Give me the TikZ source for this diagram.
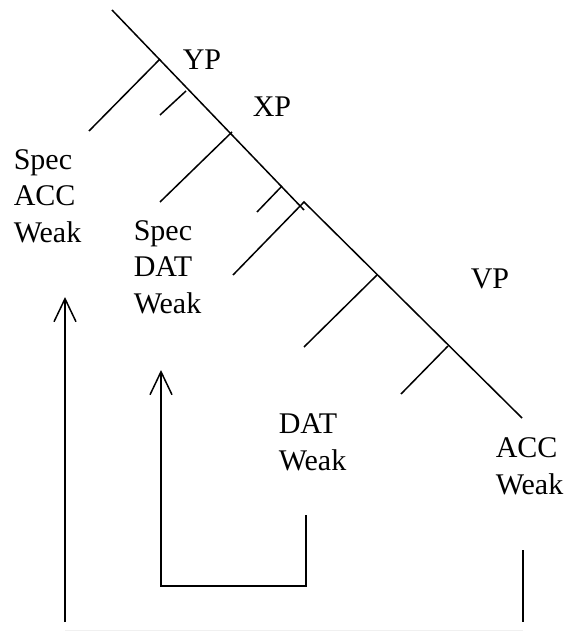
\documentclass[tikz,border=0pt]{standalone}
\usepackage{fontspec}
\setmainfont{Liberation Serif}
\usetikzlibrary{arrows.meta}
\begin{document}
\begin{tikzpicture}[x=1pt,y=-1pt,line width=1.5pt,
  lbl/.style={anchor=base west,inner sep=0pt,font=\fontsize{30}{36.5}\selectfont,align=left},
  mv/.style={-{Straight Barb[length=23pt,width=22pt]}}]
\useasboundingbox (0,0) rectangle (569,631);
% upper spine (YP / XP)
\coordinate (s0) at (112,10);
\coordinate (s1) at (160,59);
\coordinate (s2) at (232,132);
\coordinate (s3) at (282,186);
\coordinate (sE) at (304,210);
\coordinate (b1) at (89,131);
\coordinate (bA) at (186,91);
\coordinate (bB) at (160,115);
\coordinate (b2) at (160,202);
\coordinate (b3) at (257,212);
\draw (s0) -- (sE);
\draw (s1) -- (b1);
\draw (bA) -- (bB);
\draw (s2) -- (b2);
\draw (s3) -- (b3);
% VP spine
\coordinate (v0) at (304,202);
\coordinate (v1) at (377,275);
\coordinate (v2) at (448,346);
\coordinate (vE) at (522,418);
\coordinate (c0) at (233,275);
\coordinate (c1) at (304,347);
\coordinate (c2) at (401,394);
\draw (c0) -- (v0) -- (vE);
\draw (v1) -- (c1);
\draw (v2) -- (c2);
% labels (base = baseline of last line)
\node[lbl] (yp) at (182,70) {YP};
\node[lbl] (xp) at (252,117) {XP};
\node[lbl] (vp) at (470,288) {VP};
\node[lbl] (sacc) at (13,242) {Spec\\ACC\\Weak};
\node[lbl] (sdat) at (133,313) {Spec\\DAT\\Weak};
\node[lbl] (dat) at (278,470) {DAT\\Weak};
\node[lbl] (acc) at (495,494) {ACC\\Weak};
% movement arrows
\coordinate (a0) at (65,622);
\coordinate (a1) at (65,297);
\draw[mv] (a0) -- (a1);
\coordinate (d0) at (306,515);
\coordinate (d1) at (306,586);
\coordinate (d2) at (161,586);
\coordinate (d3) at (161,370);
\draw[mv] (d0) -- (d1) -- (d2) -- (d3);
\coordinate (r0) at (523,550);
\coordinate (r1) at (523,622);
\draw (r0) -- (r1);
\coordinate (g0) at (65,630);
\coordinate (g1) at (523,630);
\draw[gray!12,line width=1pt] (g0) -- (g1);
\end{tikzpicture}
\end{document}
